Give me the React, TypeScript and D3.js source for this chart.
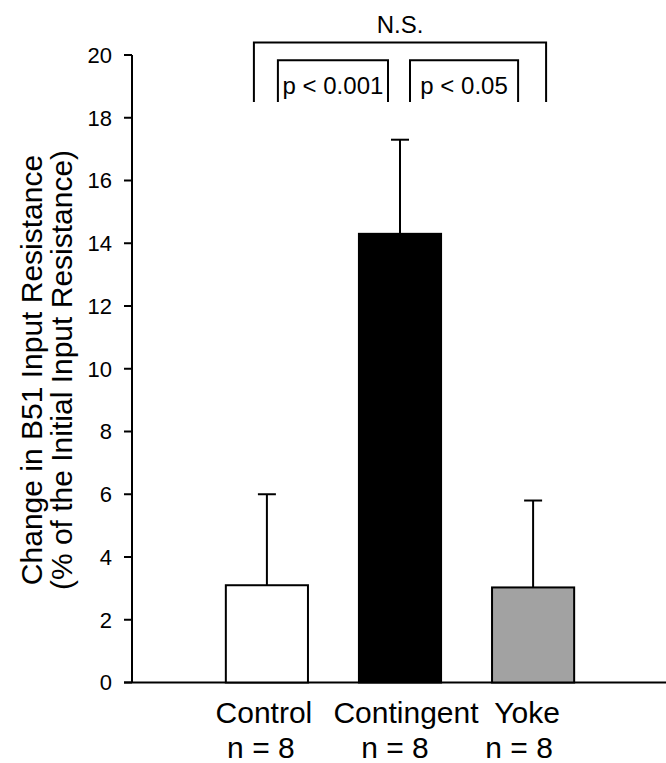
import React from "react";
import * as d3 from "d3";

const categories = ["Control", "Contingent", "Yoke"];
const nLabels = ["n = 8", "n = 8", "n = 8"];
const means = [3.1, 14.3, 3.03];
const errors = [2.9, 3.0, 2.77];
const fills = ["#ffffff", "#000000", "#a2a2a2"];
const yTicks = [0, 2, 4, 6, 8, 10, 12, 14, 16, 18, 20];
const brackets = [
  { from: "Control", to: "Yoke", dFrom: -13, dTo: 13, top: 20.4, bottom: 18.5, label: "N.S.", labelY: 20.69 },
  { from: "Control", to: "Contingent", dFrom: 11, dTo: -12, top: 19.83, bottom: 18.5, label: "p < 0.001", labelY: 18.77 },
  { from: "Contingent", to: "Yoke", dFrom: 10, dTo: -15, top: 19.83, bottom: 18.5, label: "p < 0.05", labelY: 18.77 },
];
const catLabelDx = [-3, 6, -6];
const nLabelDx = [-6, -5, -14];

const W = 666;
const H = 763;
const FONT = "'Liberation Sans', Arial, Helvetica, sans-serif";

export default function App() {
  const x = d3
    .scaleBand<string>()
    .domain(categories)
    .range([134, 666])
    .paddingInner(0.383)
    .paddingOuter(0.69);
  const y = d3.scaleLinear().domain([0, 20]).range([682.5, 55]);
  const axisX = 132;
  const bw = x.bandwidth();
  const cx = (c: string) => (x(c) as number) + bw / 2;
  const capW = 18;

  return (
    <svg
      width={W}
      height={H}
      style={{ position: "absolute", left: 0, top: 0, background: "#fff" }}
      fontFamily={FONT}
    >
      {/* y axis */}
      <line x1={axisX} x2={axisX} y1={y(20)} y2={y(0)} stroke="#000" strokeWidth={2} />
      {yTicks.map((t) => (
        <g key={t}>
          <line x1={axisX - 8} x2={axisX} y1={y(t)} y2={y(t)} stroke="#000" strokeWidth={2} />
          <text x={112} y={y(t)} dy="0.36em" textAnchor="end" fontSize={22} fill="#000">
            {t}
          </text>
        </g>
      ))}
      {/* x axis */}
      <line x1={124} x2={666} y1={y(0)} y2={y(0)} stroke="#000" strokeWidth={2.2} />

      {/* y title */}
      <g transform={`translate(42,370) rotate(-90)`}>
        <text textAnchor="middle" fontSize={30} fill="#000">
          Change in B51 Input Resistance
        </text>
      </g>
      <g transform={`translate(72,370) rotate(-90)`}>
        <text textAnchor="middle" fontSize={30} fill="#000">
          (% of the Initial Input Resistance)
        </text>
      </g>

      {/* bars */}
      {categories.map((c, i) => (
        <g key={c}>
          <line
            x1={cx(c)}
            x2={cx(c)}
            y1={y(means[i])}
            y2={y(means[i] + errors[i])}
            stroke="#000"
            strokeWidth={2}
          />
          <line
            x1={cx(c) - capW / 2}
            x2={cx(c) + capW / 2}
            y1={y(means[i] + errors[i])}
            y2={y(means[i] + errors[i])}
            stroke="#000"
            strokeWidth={2}
          />
          <rect
            x={x(c)}
            y={y(means[i])}
            width={bw}
            height={y(0) - y(means[i])}
            fill={fills[i]}
            stroke="#000"
            strokeWidth={2}
          />
          <text x={cx(c) + catLabelDx[i]} y={723} textAnchor="middle" fontSize={30} fill="#000">
            {c}
          </text>
          <text x={cx(c) + nLabelDx[i]} y={758} textAnchor="middle" fontSize={30} fill="#000">
            {nLabels[i]}
          </text>
        </g>
      ))}

      {/* significance brackets */}
      {brackets.map((b) => {
        const x1 = cx(b.from) + b.dFrom;
        const x2 = cx(b.to) + b.dTo;
        return (
          <g key={b.label}>
            <path
              d={`M${x1},${y(b.bottom)}V${y(b.top)}H${x2}V${y(b.bottom)}`}
              fill="none"
              stroke="#000"
              strokeWidth={2}
            />
            <text x={(x1 + x2) / 2} y={y(b.labelY)} textAnchor="middle" fontSize={24} fill="#000">
              {b.label}
            </text>
          </g>
        );
      })}
    </svg>
  );
}
